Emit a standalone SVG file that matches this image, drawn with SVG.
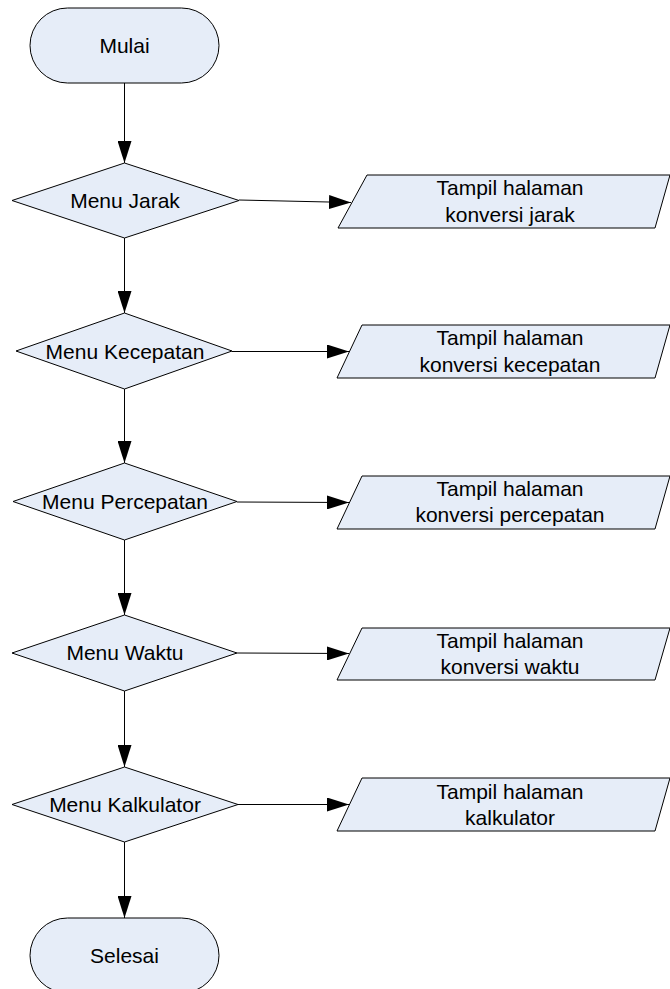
<svg xmlns="http://www.w3.org/2000/svg" width="670" height="989" viewBox="0 0 670 989">
<defs>
<style>
.shape{fill:#E6EDF8;stroke:#000;stroke-width:1}
.lbl{font-family:"Liberation Sans",Arial,sans-serif;font-size:21px;fill:#000;text-anchor:middle}
.conn{fill:none;stroke:#000;stroke-width:1}
</style>
<marker id="arr" markerUnits="userSpaceOnUse" markerWidth="22" markerHeight="14" refX="22" refY="7" orient="auto">
<path d="M0,0 L22,7 L0,14 Z" fill="#000"/>
</marker>
</defs>
<rect width="670" height="989" fill="#fff"/>
<g id="connectors">
<line class="conn" x1="124.5" y1="83" x2="124.5" y2="163" marker-end="url(#arr)"/>
<line class="conn" x1="124.5" y1="238" x2="124.5" y2="313" marker-end="url(#arr)"/>
<line class="conn" x1="124.5" y1="389" x2="124.5" y2="463" marker-end="url(#arr)"/>
<line class="conn" x1="124.5" y1="540" x2="124.5" y2="615" marker-end="url(#arr)"/>
<line class="conn" x1="124.5" y1="691" x2="124.5" y2="767" marker-end="url(#arr)"/>
<line class="conn" x1="124.5" y1="842" x2="124.5" y2="918" marker-end="url(#arr)"/>
<line class="conn" x1="239" y1="200" x2="351" y2="202.5" marker-end="url(#arr)"/>
<line class="conn" x1="232" y1="351.5" x2="349" y2="351.5" marker-end="url(#arr)"/>
<line class="conn" x1="237" y1="502" x2="349" y2="502.5" marker-end="url(#arr)"/>
<line class="conn" x1="237" y1="653" x2="349" y2="653.5" marker-end="url(#arr)"/>
<line class="conn" x1="238" y1="804.5" x2="349" y2="804.5" marker-end="url(#arr)"/>
</g>
<g id="mulai">
<rect class="shape" x="30" y="8" width="189" height="75" rx="37.5" ry="37.5"/>
<text class="lbl" x="124.5" y="53">Mulai</text>
</g>
<g id="menu-jarak">
<polygon class="shape" points="124.5,163 239,200.5 124.5,238 12,200.5"/>
<text class="lbl" x="125" y="208">Menu Jarak</text>
</g>
<g id="tampil-jarak">
<polygon class="shape" points="367,175 670,175 655,228 338,228"/>
<text class="lbl" x="510" y="195">Tampil halaman</text>
<text class="lbl" x="510" y="221.5">konversi jarak</text>
</g>
<g id="menu-kecepatan">
<polygon class="shape" points="124.5,313 232,351 124.5,389 16,351"/>
<text class="lbl" x="125" y="359">Menu Kecepatan</text>
</g>
<g id="tampil-kecepatan">
<polygon class="shape" points="362,325 670,325 655,378 337,378"/>
<text class="lbl" x="510" y="345">Tampil halaman</text>
<text class="lbl" x="510" y="371.5">konversi kecepatan</text>
</g>
<g id="menu-percepatan">
<polygon class="shape" points="124.5,463 237,501.5 124.5,540 13,501.5"/>
<text class="lbl" x="125" y="509">Menu Percepatan</text>
</g>
<g id="tampil-percepatan">
<polygon class="shape" points="362,476 670,476 655,529 337,529"/>
<text class="lbl" x="510" y="496">Tampil halaman</text>
<text class="lbl" x="510" y="522">konversi percepatan</text>
</g>
<g id="menu-waktu">
<polygon class="shape" points="124.5,615 237,653 124.5,691 12,653"/>
<text class="lbl" x="125" y="660">Menu Waktu</text>
</g>
<g id="tampil-waktu">
<polygon class="shape" points="362,628 670,628 655,680 337,680"/>
<text class="lbl" x="510" y="648">Tampil halaman</text>
<text class="lbl" x="510" y="674">konversi waktu</text>
</g>
<g id="menu-kalkulator">
<polygon class="shape" points="124.5,767 238,804.5 124.5,842 12,804.5"/>
<text class="lbl" x="125" y="812">Menu Kalkulator</text>
</g>
<g id="tampil-kalkulator">
<polygon class="shape" points="362,778 670,778 655,831 337,831"/>
<text class="lbl" x="510" y="798.5">Tampil halaman</text>
<text class="lbl" x="510" y="825">kalkulator</text>
</g>
<g id="selesai">
<rect class="shape" x="30" y="918" width="189" height="75" rx="37.5" ry="37.5"/>
<text class="lbl" x="124.5" y="963">Selesai</text>
</g>
</svg>
